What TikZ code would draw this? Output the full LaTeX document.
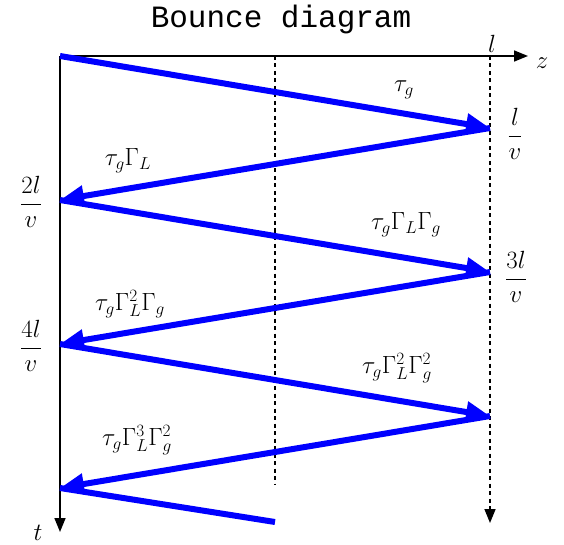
\documentclass[tikz,border=0pt]{standalone}
\usepackage{fontspec}
\newfontfamily\titlefont{Liberation Mono}
\usetikzlibrary{arrows.meta}
\begin{document}
\begin{tikzpicture}[x=1pt,y=-1pt,
  axis/.style={line width=1.6pt,-{Triangle[length=14pt,width=11pt]}},
  guide/.style={line width=1.6pt,dash pattern=on 4pt off 3.5pt},
  wave/.style={blue,line width=6pt,-{Triangle[length=24pt,width=20pt]}},
  wavefree/.style={blue,line width=6pt},
  lbl/.style={font=\fontsize{26}{28}\selectfont,inner sep=0pt}]
\useasboundingbox (0,0) rectangle (564,545);
\node[font=\titlefont\fontsize{31}{33}\selectfont] (title) at (281,19) {Bounce diagram};
% points
\coordinate (O) at (60,56);
\coordinate (zend) at (528,56);
\coordinate (tend) at (60,532);
\coordinate (mtop) at (275,56);
\coordinate (mbot) at (275,484);
\coordinate (rtop) at (490,56);
\coordinate (rend) at (490,523);
\coordinate (p1) at (490,128);
\coordinate (p2) at (60,200);
\coordinate (p3) at (490,272);
\coordinate (p4) at (60,344);
\coordinate (p5) at (490,416);
\coordinate (p6) at (60,488);
\coordinate (p7) at (275,522);
% guides
\draw[guide] (mtop) -- (mbot);
\draw[guide,-{Triangle[length=14pt,width=11pt]}] (rtop) -- (rend);
% axes
\draw[axis] (O) -- (zend);
\draw[axis] (O) -- (tend);
\node[lbl] (zl) at (542,63) {$z$};
\node[lbl] (tl) at (38,533) {$t$};
\node[lbl] (ll) at (492,44) {$l$};
% waves
\draw[wave] (O) -- (p1);
\draw[wave] (p1) -- (p2);
\draw[wave] (p2) -- (p3);
\draw[wave] (p3) -- (p4);
\draw[wave] (p4) -- (p5);
\draw[wave] (p5) -- (p6);
\draw[wavefree] (p6) -- (p7);
% labels
\node[lbl] (a1) at (404,90) {$\tau_g$};
\node[lbl] (a2) at (128,161) {$\tau_g\Gamma_L$};
\node[lbl] (a3) at (406,225) {$\tau_g\Gamma_L\Gamma_g$};
\node[lbl] (a4) at (130,304) {$\tau_g\Gamma_L^2\Gamma_g$};
\node[lbl] (a5) at (397,368) {$\tau_g\Gamma_L^2\Gamma_g^2$};
\node[lbl] (a6) at (137,440) {$\tau_g\Gamma_L^3\Gamma_g^2$};
\node[lbl] (f1) at (515,134) {$\displaystyle\frac{l}{v}$};
\node[lbl] (f2) at (31,202) {$\displaystyle\frac{2l}{v}$};
\node[lbl] (f3) at (516,277) {$\displaystyle\frac{3l}{v}$};
\node[lbl] (f4) at (31,346) {$\displaystyle\frac{4l}{v}$};
\end{tikzpicture}
\end{document}
